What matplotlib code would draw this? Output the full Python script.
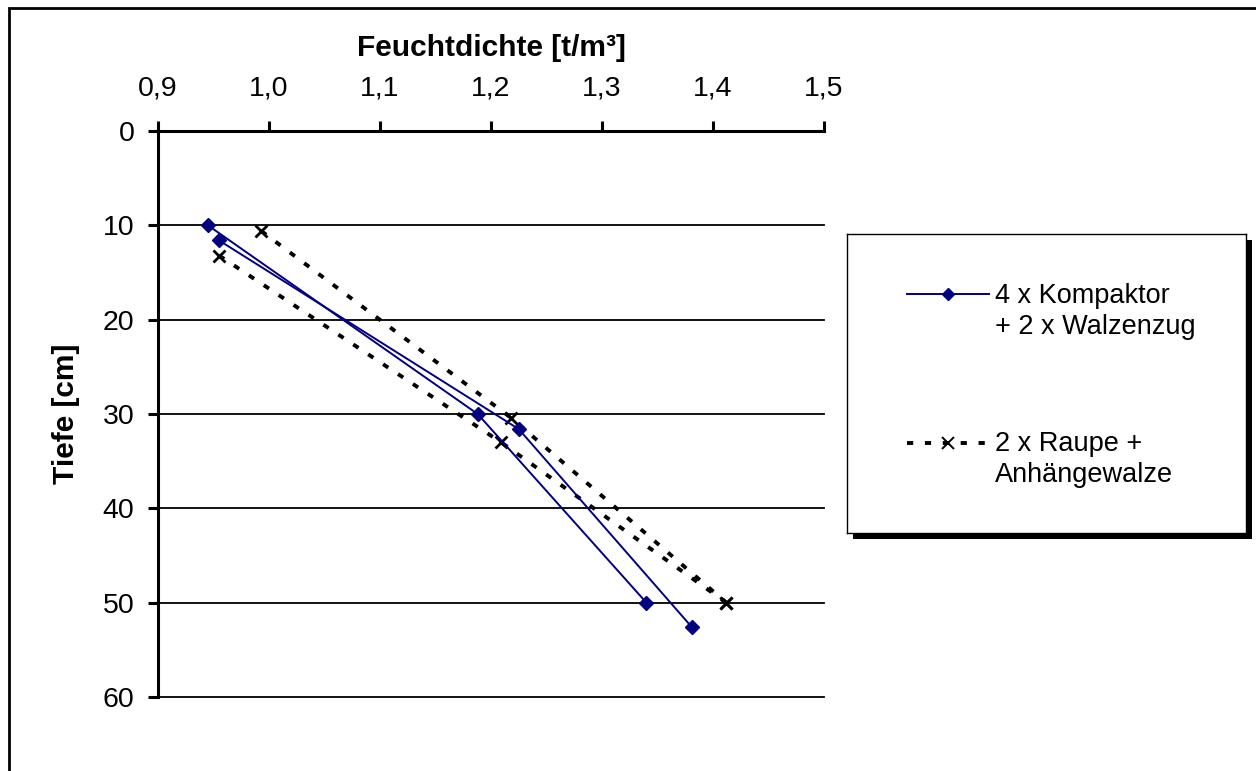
import matplotlib.pyplot as plt
from matplotlib.patches import Rectangle

plt.rcParams['font.family'] = ['Liberation Sans', 'DejaVu Sans']

# Feuchtdichte [t/m³] je Tiefe [cm], zwei Messreihen pro Verdichtungsart
kompaktor_1_dichte = [0.945, 1.188, 1.340]
kompaktor_1_tiefe = [10.0, 30.0, 50.0]
kompaktor_2_dichte = [0.955, 1.225, 1.381]
kompaktor_2_tiefe = [11.6, 31.6, 52.6]

raupe_1_dichte = [0.993, 1.218, 1.412]
raupe_1_tiefe = [10.6, 30.4, 50.0]
raupe_2_dichte = [0.955, 1.209, 1.412]
raupe_2_tiefe = [13.2, 33.0, 50.0]

x_ticks = [0.9, 1.0, 1.1, 1.2, 1.3, 1.4, 1.5]
x_labels = ['0,9', '1,0', '1,1', '1,2', '1,3', '1,4', '1,5']
y_ticks = [0, 10, 20, 30, 40, 50, 60]

label_kompaktor = '4 x Kompaktor\n+ 2 x Walzenzug'
label_raupe = '2 x Raupe +\nAnhängewalze'

blue = '#000080'
dashed = (0, (1.6, 3.0))

W, H = 1256, 771
fig = plt.figure(figsize=(W / 100, H / 100), dpi=100)
ax = fig.add_axes([158 / W, 1 - 697 / H, 666 / W, 566 / H])

def kompaktor(axis, x, y):
    axis.plot(x, y, color=blue, lw=1.4, marker='D', ms=6.8,
              mfc=blue, mec=blue, zorder=4)

def raupe(axis, x, y):
    axis.plot(x, y, color='k', lw=2.8, ls=dashed, marker='x', ms=9,
              mew=2.0, zorder=3)

kompaktor(ax, kompaktor_1_dichte, kompaktor_1_tiefe)
kompaktor(ax, kompaktor_2_dichte, kompaktor_2_tiefe)
raupe(ax, raupe_1_dichte, raupe_1_tiefe)
raupe(ax, raupe_2_dichte, raupe_2_tiefe)

ax.set_xlim(0.9, 1.5)
ax.set_ylim(60, 0)
ax.xaxis.tick_top()
ax.xaxis.set_label_position('top')
ax.set_xticks(x_ticks)
ax.set_xticklabels(x_labels)
ax.set_yticks(y_ticks)

for side in ['right', 'bottom']:
    ax.spines[side].set_visible(False)
for side in ['top', 'left']:
    ax.spines[side].set_linewidth(2.2)

ax.tick_params(axis='both', direction='out', length=7, width=2.2,
               labelsize=20.5)
ax.tick_params(axis='x', pad=14)
ax.tick_params(axis='y', pad=10)

ax.yaxis.grid(True, color='k', lw=1.3)
for gl in ax.get_ygridlines():
    gl.set_clip_on(False)

ax.set_xlabel('Feuchtdichte [t/m³]', fontsize=21.5, fontweight='bold',
              labelpad=14)
ax.set_ylabel('Tiefe [cm]', fontsize=21.5, fontweight='bold', labelpad=16)

# Rahmen um die ganze Grafik
fig.add_artist(Rectangle((9 / W, -0.05), 1.2, 1.05 - 8.5 / H,
                         transform=fig.transFigure, fill=False,
                         ec='k', lw=2))

# Legende als eigener Kasten mit Schatten
lx, ly, lw_, lh = 847, 234, 399, 299
fig.add_artist(Rectangle(((lx + 6) / W, 1 - (ly + lh + 6) / H), lw_ / W, lh / H,
                         transform=fig.transFigure, fc='k', ec='none',
                         zorder=2))
lax = fig.add_axes([lx / W, 1 - (ly + lh) / H, lw_ / W, lh / H])
lax.set_zorder(3)
lax.set_xlim(0, lw_)
lax.set_ylim(lh, 0)
lax.set_xticks([])
lax.set_yticks([])
for sp in lax.spines.values():
    sp.set_linewidth(1.0)

lax.plot([60, 142], [60, 60], color=blue, lw=1.4)
lax.plot([101], [60], color=blue, marker='D', ms=6.3, mfc=blue, mec=blue)
lax.text(148, 100, label_kompaktor, fontsize=19.5, va='baseline', ha='left',
         linespacing=1.25)

lax.plot([60, 142], [209, 209], color='k', lw=2.8, ls=dashed)
lax.plot([101], [209], color='k', marker='x', ms=8, mew=1.4)
lax.text(148, 248, label_raupe, fontsize=19.5, va='baseline', ha='left',
         linespacing=1.25)

fig.savefig('out.png', dpi=100)
